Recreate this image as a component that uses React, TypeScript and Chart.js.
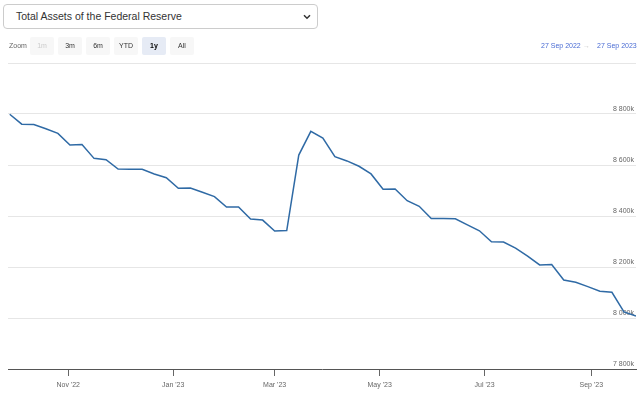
import React, { useEffect, useRef } from "react";
import { Chart, registerables } from "chart.js";

Chart.register(...registerables);

const rangeStart = "2022-09-27";
const rangeEnd = "2023-09-27";

const weekDates = [
  "2022-09-28", "2022-10-05", "2022-10-12", "2022-10-19", "2022-10-26",
  "2022-11-02", "2022-11-09", "2022-11-16", "2022-11-23", "2022-11-30",
  "2022-12-07", "2022-12-14", "2022-12-21", "2022-12-28",
  "2023-01-04", "2023-01-11", "2023-01-18", "2023-01-25",
  "2023-02-01", "2023-02-08", "2023-02-15", "2023-02-22",
  "2023-03-01", "2023-03-08", "2023-03-15", "2023-03-22", "2023-03-29",
  "2023-04-05", "2023-04-12", "2023-04-19", "2023-04-26",
  "2023-05-03", "2023-05-10", "2023-05-17", "2023-05-24", "2023-05-31",
  "2023-06-07", "2023-06-14", "2023-06-21", "2023-06-28",
  "2023-07-05", "2023-07-12", "2023-07-19", "2023-07-26",
  "2023-08-02", "2023-08-09", "2023-08-16", "2023-08-23", "2023-08-30",
  "2023-09-06", "2023-09-13", "2023-09-20", "2023-09-27",
];

// Total assets, millions of USD
const totalAssets = [
  8799000, 8760000, 8759000, 8742000, 8724000,
  8678000, 8680000, 8626000, 8621000, 8584000,
  8583000, 8583000, 8565000, 8550000,
  8509000, 8510000, 8493000, 8476000,
  8435000, 8435000, 8388000, 8384000,
  8341000, 8343000, 8639000, 8732000, 8706000,
  8633000, 8616000, 8595000, 8565000,
  8505000, 8506000, 8460000, 8438000, 8390000,
  8390000, 8389000, 8365000, 8342000,
  8299000, 8298000, 8274000, 8243000,
  8208000, 8210000, 8149000, 8140000, 8123000,
  8105000, 8101000, 8024000, 8008000,
];

const xTickDates = ["2022-11-01", "2023-01-01", "2023-03-01", "2023-05-01", "2023-07-01", "2023-09-01"];
const xTickLabels = ["Nov '22", "Jan '23", "Mar '23", "May '23", "Jul '23", "Sep '23"];

const yTickValues = [7800000, 8000000, 8200000, 8400000, 8600000, 8800000, 9000000];
const yTickLabels = ["7 800k", "8 000k", "8 200k", "8 400k", "8 600k", "8 800k", ""];

const zoomButtons = ["1m", "3m", "6m", "YTD", "1y", "All"];
const selectedButton = "1y";
const disabledButton = "1m";

const rangeFromLabel = "27 Sep 2022";
const rangeToLabel = "27 Sep 2023";
const selectTitle = "Total Assets of the Federal Reserve";

const DAY = 86400000;
const dayIndex = (d: string) => (Date.parse(d) - Date.parse(rangeStart)) / DAY;

const FONT = "'Liberation Sans', Arial, Helvetica, sans-serif";

export default function App() {
  const canvasRef = useRef<HTMLCanvasElement | null>(null);

  useEffect(() => {
    const canvas = canvasRef.current;
    if (!canvas) return;
    const points = weekDates.map((d, i) => ({ x: dayIndex(d), y: totalAssets[i] }));
    const chart = new Chart(canvas, {
      type: "line",
      data: {
        datasets: [
          {
            label: "Total Assets",
            data: points,
            borderColor: "#2f6aa5",
            borderWidth: 1.5,
            pointRadius: 0,
            pointHoverRadius: 0,
            tension: 0,
            fill: false,
          },
        ],
      },
      options: {
        animation: false,
        responsive: false,
        maintainAspectRatio: false,
        devicePixelRatio: 1,
        layout: { padding: { left: 8, right: 4, top: 63, bottom: 0 } },
        plugins: {
          legend: { display: false },
          tooltip: { enabled: false },
          title: { display: false },
        },
        scales: {
          x: {
            type: "linear",
            min: 0,
            max: dayIndex(rangeEnd),
            afterBuildTicks: (scale: any) => {
              scale.ticks = xTickDates.map((d) => ({ value: dayIndex(d) }));
            },
            afterFit: (scale: any) => {
              scale.height = 25;
            },
            grid: {
              drawOnChartArea: false,
              drawTicks: true,
              tickLength: 7,
              color: "#666666",
              lineWidth: 1,
            },
            border: { display: true, color: "#555555", width: 1 },
            ticks: {
              autoSkip: false,
              maxRotation: 0,
              minRotation: 0,
              padding: 5,
              color: "#666666",
              font: { family: FONT, size: 7 },
              callback: (_v: any, i: number) => xTickLabels[i],
            },
          },
          y: {
            type: "linear",
            position: "right",
            min: 7800000,
            max: 9000000,
            afterBuildTicks: (scale: any) => {
              scale.ticks = yTickValues.map((v) => ({ value: v }));
            },
            afterFit: (scale: any) => {
              scale.width = 0;
            },
            grid: {
              drawTicks: false,
              color: (ctx: any) =>
                ctx.tick && ctx.tick.value === 7800000 ? "rgba(0,0,0,0)" : "#e6e6e6",
              lineWidth: 1,
            },
            border: { display: false },
            ticks: {
              mirror: true,
              padding: -2,
              labelOffset: -5,
              color: "#666666",
              font: { family: FONT, size: 7 },
              callback: (_v: any, i: number) => yTickLabels[i],
            },
          },
        },
      },
    } as any);
    return () => chart.destroy();
  }, []);

  const btnLeft = [30, 58, 86, 114, 142, 170];

  return (
    <div
      style={{
        position: "fixed",
        left: 0,
        top: 0,
        width: 640,
        height: 394,
        background: "#ffffff",
        fontFamily: FONT,
        overflow: "hidden",
      }}
    >
      <canvas
        ref={canvasRef}
        width={640}
        height={394}
        style={{ position: "absolute", left: 0, top: 0, width: 640, height: 394 }}
      />
      <div
        style={{
          position: "absolute",
          left: 3,
          top: 4,
          width: 315,
          height: 25,
          boxSizing: "border-box",
          border: "1px solid #cccccc",
          borderRadius: 4,
          background: "#ffffff",
          color: "#333333",
          fontSize: 10.5,
          lineHeight: "23px",
          paddingLeft: 12,
        }}
      >
        {selectTitle}
        <svg
          width="8"
          height="6"
          viewBox="0 0 8 6"
          style={{ position: "absolute", right: 6, top: 9 }}
        >
          <path d="M1 1.2 L4 4.2 L7 1.2" stroke="#333" strokeWidth="1.5" fill="none" />
        </svg>
      </div>
      <div
        style={{
          position: "absolute",
          left: 9,
          top: 41,
          fontSize: 7,
          lineHeight: "9px",
          color: "#666666",
        }}
      >
        Zoom
      </div>
      {zoomButtons.map((b, i) => (
        <div
          key={b}
          style={{
            position: "absolute",
            left: btnLeft[i],
            top: 37,
            width: 24,
            height: 18,
            lineHeight: "18px",
            textAlign: "center",
            fontSize: 7,
            borderRadius: 2,
            background: b === selectedButton ? "#e6ebf5" : "#f7f7f7",
            color: b === disabledButton ? "#cccccc" : b === selectedButton ? "#000000" : "#333333",
            fontWeight: b === selectedButton ? "bold" : "normal",
          }}
        >
          {b}
        </div>
      ))}
      <div
        style={{
          position: "absolute",
          left: 541,
          top: 41,
          fontSize: 7,
          lineHeight: "9px",
          color: "#4a6cd4",
          whiteSpace: "nowrap",
        }}
      >
        {rangeFromLabel}
      </div>
      <div
        style={{
          position: "absolute",
          left: 583,
          top: 41,
          fontSize: 7,
          lineHeight: "9px",
          color: "#cccccc",
        }}
      >
        →
      </div>
      <div
        style={{
          position: "absolute",
          left: 597,
          top: 41,
          fontSize: 7,
          lineHeight: "9px",
          color: "#4a6cd4",
          whiteSpace: "nowrap",
        }}
      >
        {rangeToLabel}
      </div>
    </div>
  );
}
